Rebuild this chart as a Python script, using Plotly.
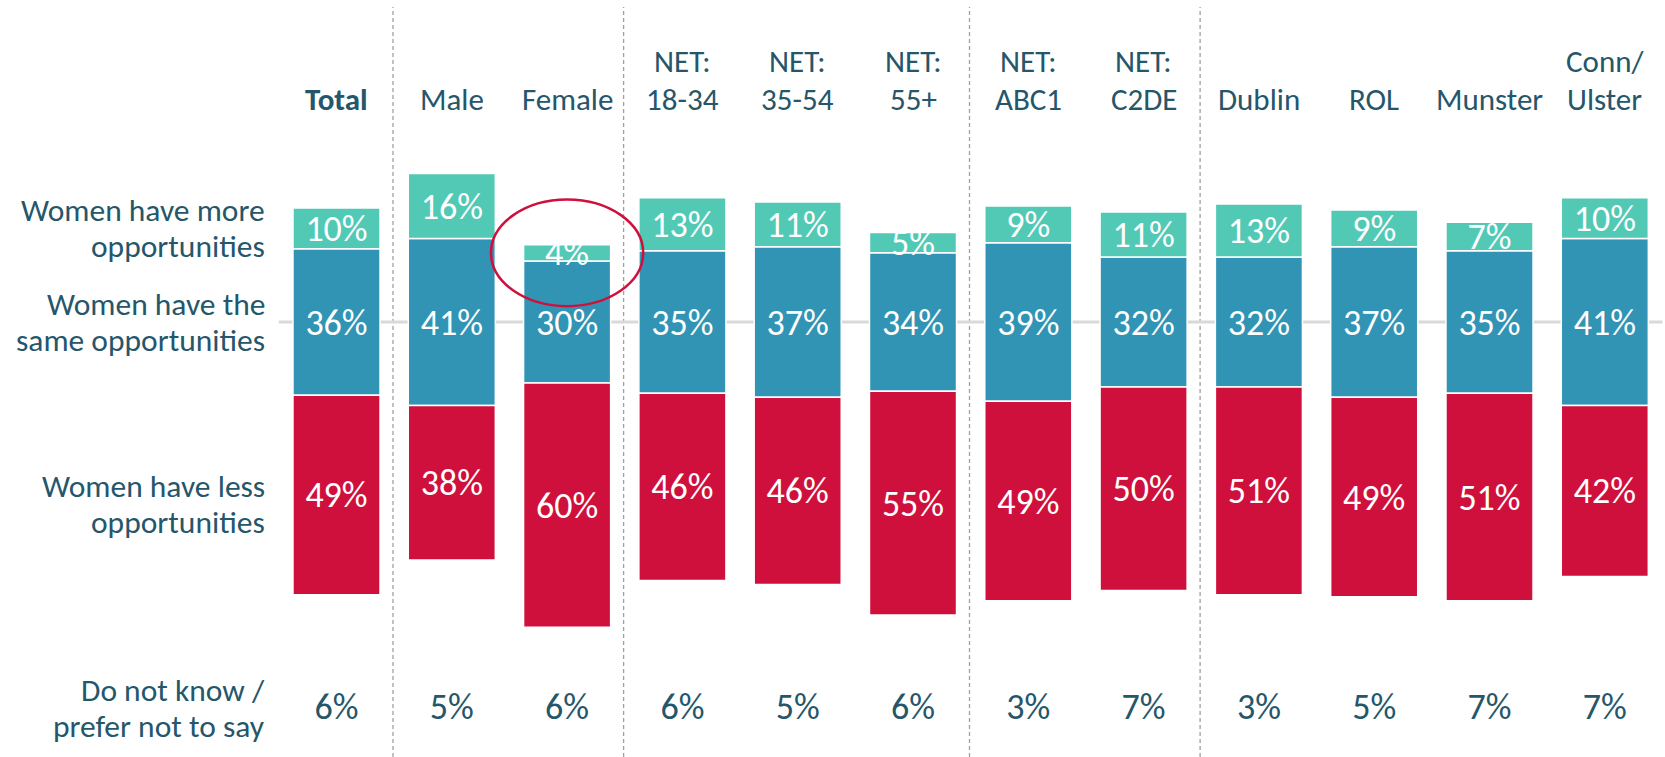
import plotly.graph_objects as go

# ---------------- data ----------------
categories = ["Total", "Male", "Female", "NET: 18-34", "NET: 35-54", "NET: 55+",
              "NET: ABC1", "NET: C2DE", "Dublin", "ROL", "Munster", "Conn/Ulster"]
header_labels = [["<b>Total</b>"], ["Male"], ["Female"], ["NET:", "18-34"], ["NET:", "35-54"],
                 ["NET:", "55+"], ["NET:", "ABC1"], ["NET:", "C2DE"], ["Dublin"], ["ROL"],
                 ["Munster"], ["Conn/", "Ulster"]]
more_opps = [10, 16, 4, 13, 11, 5, 9, 11, 13, 9, 7, 10]
same_opps = [36, 41, 30, 35, 37, 34, 39, 32, 32, 37, 35, 41]
less_opps = [49, 38, 60, 46, 46, 55, 49, 50, 51, 49, 51, 42]
dont_know = [6, 5, 6, 6, 5, 6, 3, 7, 3, 5, 7, 7]
row_labels = [["Women have more", "opportunities"],
              ["Women have the", "same opportunities"],
              ["Women have less", "opportunities"],
              ["Do not know /", "prefer not to say"]]
group_last = ["Total", "Female", "NET: 55+", "NET: C2DE"]   # dashed separator after these
highlight = "Female"

# ---------------- style ----------------
GREEN = "#52C9B5"
BLUE = "#3194B4"
RED = "#D0103C"
TEXT = "#25566A"
FONT = "Carlito, Roboto, Lato, sans-serif"
W, H = 1665, 757
PX_PER_PCT = 4.07
CENTER_PX = 322
X0_PX, STEP_PX = 336.5, 115.3
LABEL_DY = -3.5 / PX_PER_PCT   # small downward nudge of value labels

idx = list(range(len(categories)))

half = [s / 2 for s in same_opps]
green_base = half
blue_base = [-h for h in half]
red_base = [-h - l for h, l in zip(half, less_opps)]

fig = go.Figure()
common = dict(width=0.755, marker_line_color="white", marker_line_width=1.5,
              hoverinfo="skip", textposition="none")
fig.add_trace(go.Bar(x=idx, y=same_opps, base=blue_base, marker_color=BLUE, **common))
fig.add_trace(go.Bar(x=idx, y=more_opps, base=green_base, marker_color=GREEN, **common))
fig.add_trace(go.Bar(x=idx, y=less_opps, base=red_base, marker_color=RED, **common))

lab_font = dict(family=FONT, size=36, color="white", weight=300)
fig.add_trace(go.Scatter(x=idx, y=[h + m / 2 + LABEL_DY for h, m in zip(half, more_opps)],
                         text=[f"{v}%" for v in more_opps], mode="text",
                         textfont=lab_font, hoverinfo="skip"))
fig.add_trace(go.Scatter(x=idx, y=[LABEL_DY] * len(idx),
                         text=[f"{v}%" for v in same_opps], mode="text",
                         textfont=lab_font, hoverinfo="skip"))
fig.add_trace(go.Scatter(x=idx, y=[b + l / 2 + LABEL_DY for b, l in zip(red_base, less_opps)],
                         text=[f"{v}%" for v in less_opps], mode="text",
                         textfont=lab_font, hoverinfo="skip"))

def px_to_y(py):
    return (CENTER_PX - py) / PX_PER_PCT

DK_Y = px_to_y(710)
fig.add_trace(go.Scatter(x=idx, y=[DK_Y] * len(idx),
                         text=[f"{v}%" for v in dont_know], mode="text",
                         textfont=dict(family=FONT, size=36, color=TEXT, weight=300),
                         hoverinfo="skip"))

x_lo = -X0_PX / STEP_PX
x_hi = (W - X0_PX) / STEP_PX
y_hi = px_to_y(0)
y_lo = px_to_y(H)

shapes = []
# centre gray line
shapes.append(dict(type="line", xref="x", yref="y", x0=-0.5, x1=len(idx) - 0.5,
                   y0=0, y1=0, line=dict(color="#D9D9D9", width=3), layer="below"))
# dashed group separators
for name in group_last:
    i = categories.index(name)
    shapes.append(dict(type="line", xref="x", yref="paper", x0=i + 0.49, x1=i + 0.49,
                       y0=0, y1=1 - 7 / H,
                       line=dict(color="#A0A0A0", width=1.3, dash="4px,3px"),
                       layer="below"))
# highlight ellipse around the small green segment
hi = categories.index(highlight)
cy = half[hi] + more_opps[hi] / 2
shapes.append(dict(type="circle", xref="x", yref="y", x0=hi - 0.66, x1=hi + 0.66,
                   y0=cy - 13.1, y1=cy + 13.1,
                   line=dict(color=RED, width=2.5), layer="above"))

annotations = []
HEAD_BOTTOM_PX, HEAD_SPACING = 99, 38
for i, lines in zip(idx, header_labels):
    n = len(lines)
    for k, line in enumerate(lines):
        py = HEAD_BOTTOM_PX - (n - 1 - k) * HEAD_SPACING
        annotations.append(dict(x=i, y=px_to_y(py), xref="x", yref="y", text=line,
                                showarrow=False, xanchor="center", yanchor="middle",
                                font=dict(family=FONT, size=31, color=TEXT, weight=300)))
row_y_px = [228, 322, 504, 708]
ROW_SPACING = 35.5
for lines, py in zip(row_labels, row_y_px):
    n = len(lines)
    for k, line in enumerate(lines):
        ly = py + (k - (n - 1) / 2) * ROW_SPACING
        annotations.append(dict(x=(267 - X0_PX) / STEP_PX, y=px_to_y(ly), xref="x", yref="y",
                                text=line, showarrow=False, xanchor="right", yanchor="middle",
                                font=dict(family=FONT, size=31.5, color=TEXT, weight=300)))

fig.update_layout(
    width=W, height=H,
    margin=dict(l=0, r=0, t=0, b=0),
    paper_bgcolor="white", plot_bgcolor="white",
    barmode="overlay", showlegend=False,
    xaxis=dict(range=[x_lo, x_hi], visible=False, fixedrange=True),
    yaxis=dict(range=[y_lo, y_hi], visible=False, fixedrange=True),
    shapes=shapes, annotations=annotations,
)

fig.write_html("out.html", config={"displayModeBar": False},
               post_script="document.body.style.margin='0';document.body.style.padding='0';")
